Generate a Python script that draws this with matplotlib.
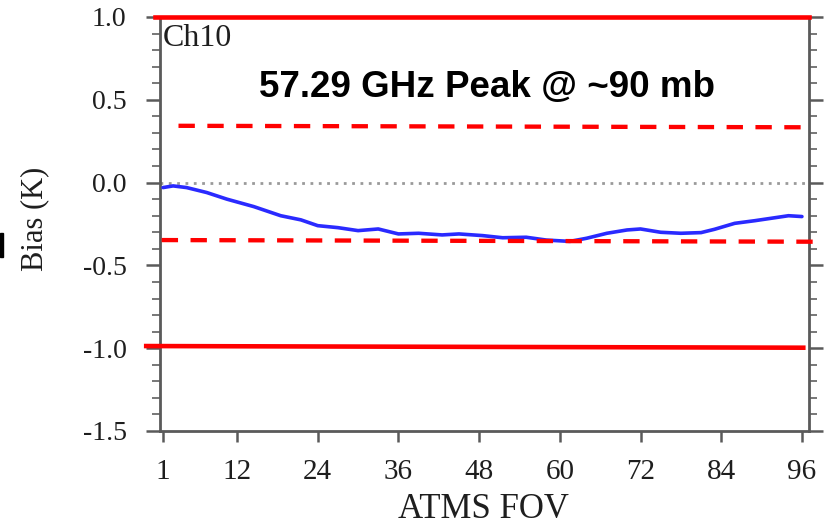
import numpy as np
import matplotlib
matplotlib.use("Agg")
import matplotlib.pyplot as plt
from matplotlib.patches import Rectangle
from matplotlib.ticker import MultipleLocator

plt.rcParams['axes.unicode_minus'] = False

# Данные: средний bias по FOV
fov = [1, 2.5, 4.5, 7.5, 10.5, 14.5, 18.5, 21.5, 24, 27, 30, 33, 36, 39,
       42.5, 45, 48.5, 51.5, 55, 58, 61.5, 64, 67, 70, 72, 75, 78, 81, 83,
       86, 89, 92, 94, 96]
bias = [-0.03, -0.02, -0.03, -0.06, -0.10, -0.145, -0.20, -0.225, -0.26,
        -0.272, -0.29, -0.28, -0.31, -0.306, -0.316, -0.31, -0.32, -0.333,
        -0.33, -0.347, -0.355, -0.336, -0.306, -0.286, -0.28, -0.30, -0.306,
        -0.302, -0.282, -0.246, -0.23, -0.212, -0.20, -0.205]

# Пределы (нарисованы поверх от руки, поэтому слегка наклонены)
limit_solid_top = [1.0, 1.0]
limit_solid_bot = [-0.987, -0.997]
limit_dash_top = [0.343, 0.334]
limit_dash_bot = [-0.347, -0.357]

x_ticks = [1, 12, 24, 36, 48, 60, 72, 84, 96]
y_ticks = [1.0, 0.5, 0.0, -0.5, -1.0, -1.5]

title = "57.29 GHz Peak @ ~90 mb"
channel = "Ch10"

serif = ["Liberation Serif", "DejaVu Serif"]
spine_col = "#5a5a5a"

fig = plt.figure(figsize=(8.32, 5.24), dpi=100)
ax = fig.add_axes([160 / 832, 1 - 431 / 524, 649 / 832, 414 / 524])

ax.set_xlim(0.55, 97.05)
ax.set_ylim(-1.5, 1.0)

# линия нуля
ax.axhline(0, color="#9a9a9a", lw=2, ls=(0, (1, 2)), zorder=2)

# кривая bias
ax.plot(fov, bias, color="#2a2aff", lw=2.6, zorder=4, solid_capstyle="round")

# красные пределы
red = "#ff0000"
dash = (0, (3.8, 2.9))
ax.plot([-0.2, 97.05], limit_solid_top, color=red, lw=3.3, clip_on=False, zorder=5)
ax.plot([-1.5, 96.2], limit_solid_bot, color=red, lw=3.3, clip_on=False, zorder=5)
ax.plot([3.3, 97.05], limit_dash_top, color=red, lw=3.1, ls=dash,
        clip_on=False, zorder=5)
ax.plot([0.8, 98.4], limit_dash_bot, color=red, lw=3.1, ls=dash,
        clip_on=False, zorder=5)

# оси
for side in ["left", "right", "bottom", "top"]:
    ax.spines[side].set_color(spine_col)
    ax.spines[side].set_linewidth(2)

ax.set_xticks(x_ticks)
ax.set_yticks(y_ticks)
ax.yaxis.set_minor_locator(MultipleLocator(0.1))
ax.tick_params(axis="both", which="major", direction="out", color=spine_col,
               width=1.8, labelcolor="#1e1e1e")
ax.tick_params(axis="y", which="major", length=10, right=True, pad=14)
ax.tick_params(axis="y", which="minor", length=5.5, width=1.4, right=True,
               direction="out", color="#777777")
ax.tick_params(axis="x", which="major", length=8, pad=12)
ax.tick_params(axis="x", which="minor", bottom=False)

for lab in ax.get_xticklabels():
    lab.set_fontfamily(serif)
    lab.set_fontsize(21)
for lab in ax.get_yticklabels():
    lab.set_fontfamily(serif)
    lab.set_fontsize(20)

# подписи
fig.text(35 / 832, 1 - 219 / 524, "Bias (K)", rotation=90, ha="center",
         va="center", family=serif, fontsize=22, color="#1e1e1e")
fig.text(483 / 832, 1 - 509 / 524, "ATMS FOV", ha="center", va="center",
         family=serif, fontsize=25, color="#1e1e1e")
fig.text(163 / 832, 1 - 46 / 524, channel, ha="left", va="baseline",
         family=serif, fontsize=23, color="#1e1e1e")
fig.text(487 / 832, 1 - 97 / 524, title, ha="center", va="baseline",
         family=["Liberation Sans", "DejaVu Sans"], fontsize=26.5,
         fontweight="bold", color="black")

# обрезанный кусок слева
fig.patches.append(Rectangle((0, 1 - 257 / 524), 3 / 832, 24 / 524,
                             transform=fig.transFigure, color="black"))

fig.savefig("out.png", dpi=100)
